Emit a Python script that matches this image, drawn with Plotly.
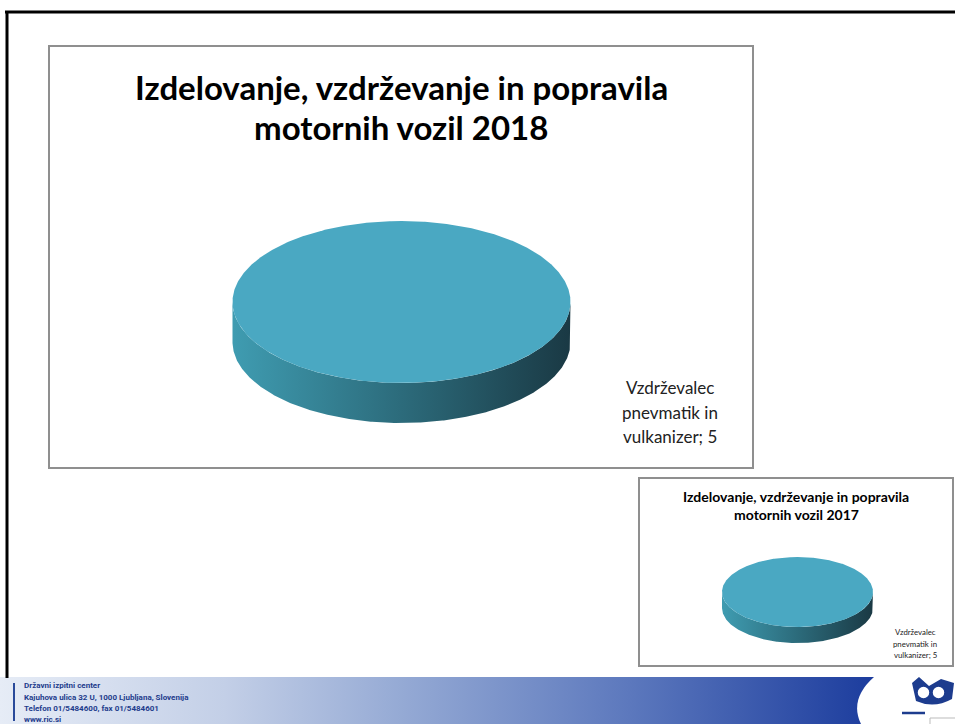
import textwrap
import numpy as np
import plotly.graph_objects as go

# ---------------- data ----------------
categories_2018 = ["Vzdrževalec pnevmatik in vulkanizer"]
values_2018 = [5]
categories_2017 = ["Vzdrževalec pnevmatik in vulkanizer"]
values_2017 = [5]
title_lines_2018 = ["Izdelovanje, vzdrževanje in popravila", "motornih vozil 2018"]
title_lines_2017 = ["Izdelovanje, vzdrževanje in popravila", "motornih vozil 2017"]
footer_lines = [
    "Državni izpitni center",
    "Kajuhova ulica 32 U, 1000 Ljubljana, Slovenija",
    "Telefon 01/5484600, fax 01/5484601",
    "www.ric.si",
]

W, H = 955, 724
TOP_COLOR = "#4AA8C2"
RIM_SCALE = [[0, "#3f9cb1"], [0.5, "#2c6b7b"], [1, "#1a3944"]]

charts = [
    dict(cats=categories_2018, vals=values_2018, titles=title_lines_2018,
         frame=(49, 46, 753, 468), cx=401.5, cy=302, rx=169, ry=81, depth=40,
         title_y=[87, 127], title_size=33, label_x=670, label_y=[387, 412, 436],
         label_size=17),
    dict(cats=categories_2017, vals=values_2017, titles=title_lines_2017,
         frame=(639, 478, 953, 666), cx=797.5, cy=592, rx=75.5, ry=35, depth=16,
         title_y=[496, 514], title_size=14, label_x=915, label_y=[632, 643.5, 655],
         label_size=7.8),
]

fig = go.Figure()
shapes = []
annotations = []

# slide border
shapes.append(dict(type="line", x0=5, x1=W + 2, y0=12, y1=12, line=dict(color="black", width=3)))
shapes.append(dict(type="line", x0=7, x1=7, y0=11, y1=678, line=dict(color="black", width=3)))


def pie3d(ch):
    vals = ch["vals"]
    total = float(sum(vals))
    cx, cy, rx, ry, d = ch["cx"], ch["cy"], ch["rx"], ch["ry"], ch["depth"]
    cum = 0.0
    for v in vals:
        a0 = 90 - 360 * cum / total
        a1 = 90 - 360 * (cum + v) / total
        cum += v
        t = np.radians(np.linspace(a0, a1, 721))
        xs = cx + rx * np.cos(t)
        ys = cy - ry * np.sin(t)
        front = np.sin(t) <= 0
        if front.any():
            fx, fy = xs[front], ys[front]
            order = np.argsort(fx)
            fx, fy = fx[order], fy[order]
            rim_x = np.concatenate([fx, fx[::-1]])
            rim_y = np.concatenate([fy, fy[::-1] + d])
            fig.add_trace(go.Scatter(
                x=rim_x, y=rim_y, mode="lines", fill="toself",
                line=dict(width=0), fillgradient=dict(type="horizontal", colorscale=RIM_SCALE),
                hoverinfo="skip", showlegend=False))
        if v < total:
            px = np.concatenate([[cx], xs, [cx]])
            py = np.concatenate([[cy], ys, [cy]])
        else:
            px, py = xs, ys
        fig.add_trace(go.Scatter(
            x=px, y=py, mode="lines", fill="toself", fillcolor=TOP_COLOR,
            line=dict(width=0), hoverinfo="skip", showlegend=False))


for ch in charts:
    x0, y0, x1, y1 = ch["frame"]
    shapes.append(dict(type="rect", x0=x0, y0=y0, x1=x1, y1=y1,
                       line=dict(color="#8f8f8f", width=2), fillcolor="white", layer="below"))
    pie3d(ch)
    fcx = (x0 + x1) / 2
    for line, yy in zip(ch["titles"], ch["title_y"]):
        annotations.append(dict(x=fcx, y=yy, xref="x", yref="y", text="<b>" + line + "</b>",
                                showarrow=False, xanchor="center", yanchor="middle",
                                font=dict(family="Lato, Open Sans, sans-serif",
                                          size=ch["title_size"], color="black")))
    for cat, v in zip(ch["cats"], ch["vals"]):
        label = f"{cat}; {v}"
        lines = textwrap.wrap(label, 13)
        for line, yy in zip(lines, ch["label_y"]):
            annotations.append(dict(x=ch["label_x"], y=yy, xref="x", yref="y", text=line,
                                    showarrow=False, xanchor="center", yanchor="middle",
                                    font=dict(family="Lato, Open Sans, sans-serif",
                                              size=ch["label_size"], color="#222222")))

# footer band with gradient
fig.add_trace(go.Scatter(
    x=[0, 900, 900, 0, 0], y=[677, 677, H + 2, H + 2, 677], mode="lines", fill="toself",
    line=dict(width=0),
    fillgradient=dict(type="horizontal",
                      colorscale=[[0, "#e6ecf6"], [0.25, "#c3cfe7"], [0.45, "#94a9d4"],
                                  [0.7, "#5c78bd"], [1, "#15369a"]]),
    hoverinfo="skip", showlegend=False))

# white logo area
shapes.append(dict(type="path", path="M 874,677 Q 848,700 862,726 L 958,726 L 958,677 Z",
                   fillcolor="white", line=dict(width=0), layer="above"))
# owl logo (approximate)
shapes.append(dict(type="path",
                   path="M 912,683 L 919,677 L 929,686 L 941,679 L 954,683 L 952,699 Q 934,709 916,701 Z",
                   fillcolor="#1d3c8e", line=dict(width=0), layer="above"))
shapes.append(dict(type="circle", x0=917, x1=930, y0=686, y1=699, fillcolor="white",
                   line=dict(color="#1d3c8e", width=1.5), layer="above"))
shapes.append(dict(type="circle", x0=932, x1=945, y0=686, y1=699, fillcolor="white",
                   line=dict(color="#1d3c8e", width=1.5), layer="above"))
shapes.append(dict(type="line", x0=902, x1=925, y0=713, y1=713,
                   line=dict(color="#1d3c8e", width=2.5), layer="above"))
shapes.append(dict(type="rect", x0=930, x1=958, y0=718, y1=726,
                   line=dict(color="#bbbbbb", width=1), fillcolor="white", layer="above"))
# footer left marker
shapes.append(dict(type="line", x0=14, x1=14, y0=683, y1=721,
                   line=dict(color="#2a4a9a", width=2), layer="above"))

for line, yy in zip(footer_lines, [685.5, 697, 708.5, 719]):
    annotations.append(dict(x=22, y=yy, xref="x", yref="y", text="<b>" + line + "</b>",
                            showarrow=False, xanchor="left", yanchor="middle",
                            font=dict(family="Roboto, Liberation Sans, sans-serif",
                                      size=8, color="#1e3c8c")))

fig.update_layout(
    width=W, height=H, margin=dict(l=0, r=0, t=0, b=0),
    paper_bgcolor="white", plot_bgcolor="white",
    xaxis=dict(range=[0, W], visible=False, fixedrange=True),
    yaxis=dict(range=[H, 0], visible=False, fixedrange=True),
    shapes=shapes, annotations=annotations, showlegend=False,
)

fig.write_html("out.html", config={"displayModeBar": False},
               post_script="document.body.style.margin='0px';document.body.style.overflow='hidden';")
